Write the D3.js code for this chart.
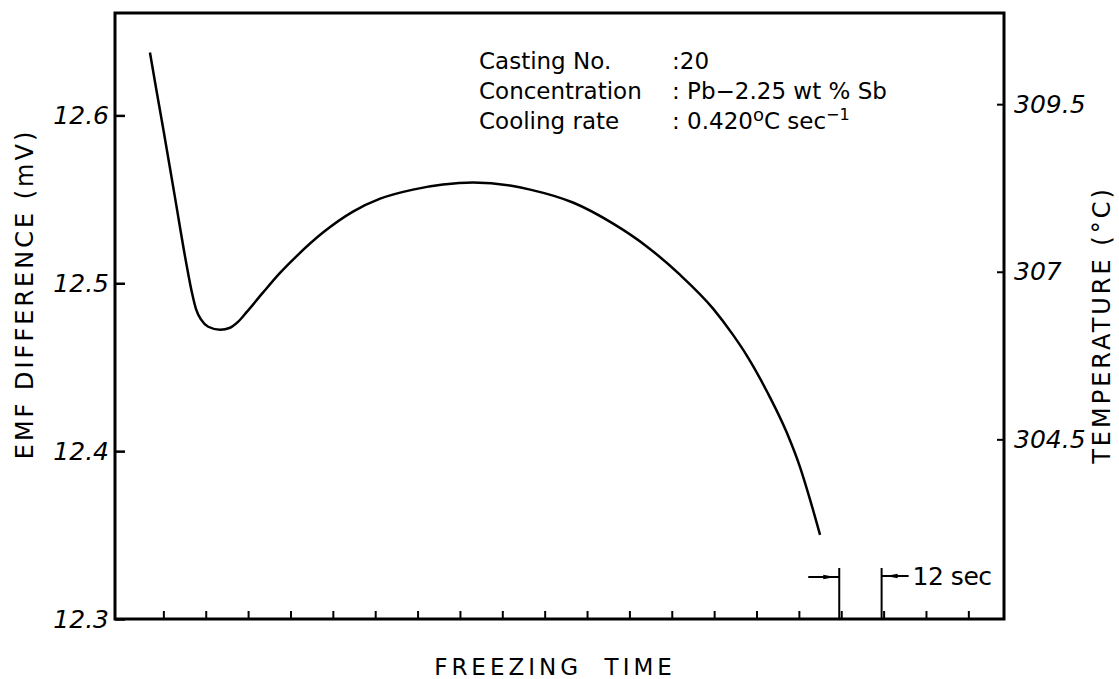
<!DOCTYPE html>
<html>
<head>
<meta charset="utf-8">
<title>Freezing curve - casting 20</title>
<script src="https://d3js.org/d3.v7.min.js"></script>
<style>
  body { margin: 0; background: #fff; }
  text { font-family: "DejaVu Sans", sans-serif; fill: #000; }
</style>
</head>
<body>
<div id="chart"></div>
<script>
// trace: freezing time (s) vs emf difference (mV)
const timeSec = [8.2, 9.9, 11.9, 15.3, 18.4, 20.1, 21.3, 22.7, 24.7, 28.1, 30.9, 33.2, 35.7,
                 40.2, 45.1, 49.9, 57.2, 65.7, 73.4, 82.7, 91.2, 99.7, 110.2, 115.9, 128.0,
                 139.4, 149.0, 158.3, 167.7, 173.3, 177.3, 183.0, 188.6, 192.3, 195.1, 198.0];
const emf = [12.6375, 12.6166, 12.5928, 12.5510, 12.5129, 12.4944, 12.4843, 12.4783, 12.4741,
             12.4723, 12.4735, 12.4771, 12.4831, 12.4944, 12.5063, 12.5165, 12.5302, 12.5427,
             12.5504, 12.5558, 12.5588, 12.5600, 12.5582, 12.5558, 12.5481, 12.5355, 12.5218,
             12.5051, 12.4849, 12.4694, 12.4568, 12.4354, 12.4109, 12.3906, 12.3716, 12.3501];

const emfTicks = [12.3, 12.4, 12.5, 12.6];
const tempTicks = [304.5, 307, 309.5];
const timeTicks = [12, 24, 36, 48, 60, 72, 84, 96, 108, 120, 132, 144, 156, 168, 180, 192, 204, 216, 228, 240];
const markTimes = [204, 216];   // the 12 sec bracket

const timeDomain = [-1.7, 250.1];
const emfDomain = [12.3, 12.661];
const tempDomain = [301.82, 310.86];

const infoLabels = ["Casting No.", "Concentration", "Cooling rate"];

const W = 1119, H = 679;
const plotL = 115, plotR = 1004, plotT = 13, plotB = 619;

let svg = d3.select("#chart").append("svg")
    .attr("width", W)
    .attr("height", H);

svg.append("defs").append("marker")
    .attr("id", "head")
    .attr("viewBox", "0 -3 12 6")
    .attr("markerUnits", "userSpaceOnUse")
    .attr("markerWidth", 12)
    .attr("markerHeight", 6)
    .attr("refX", 16)
    .attr("refY", 0)
    .attr("orient", "auto")
  .append("path")
    .attr("d", "M0,-2.2L12,0L0,2.2Z")
    .attr("fill", "#000");

let xScale = d3.scaleLinear().domain(timeDomain).range([plotL, plotR]);
let yScale = d3.scaleLinear().domain(emfDomain).range([plotB, plotT]);
let tScale = d3.scaleLinear().domain(tempDomain).range([plotB, plotT]);

// frame
svg.append("rect")
    .attr("x", plotL).attr("y", plotT)
    .attr("width", plotR - plotL).attr("height", plotB - plotT)
    .attr("fill", "none")
    .attr("stroke", "#000")
    .attr("stroke-width", 3);

// left axis
let yAxis = d3.axisLeft(yScale)
    .tickValues(emfTicks)
    .tickSize(-10)
    .tickPadding(6)
    .tickFormat(d3.format(".1f"));
let gy = svg.append("g")
    .attr("transform", "translate(" + plotL + ",0)")
    .call(yAxis);
gy.select(".domain").remove();
gy.selectAll("line").attr("stroke", "#000").attr("stroke-width", 2.5);
gy.selectAll("text")
    .attr("font-size", "25px")
    .attr("font-style", "italic")
    .attr("font-family", "DejaVu Sans, sans-serif")
    .attr("fill", "#000");

// right axis (temperature)
let tAxis = d3.axisRight(tScale)
    .tickValues(tempTicks)
    .tickSize(-7)
    .tickPadding(10)
    .tickFormat(d => d % 1 === 0 ? d3.format("d")(d) : d3.format(".1f")(d));
let gt = svg.append("g")
    .attr("transform", "translate(" + plotR + ",0)")
    .call(tAxis);
gt.select(".domain").remove();
gt.selectAll("line").attr("stroke", "#000").attr("stroke-width", 2);
gt.selectAll("text")
    .attr("font-size", "25px")
    .attr("font-style", "italic")
    .attr("font-family", "DejaVu Sans, sans-serif")
    .attr("fill", "#000");

// bottom ticks
let xAxis = d3.axisBottom(xScale)
    .tickValues(timeTicks)
    .tickSize(-8)
    .tickFormat("");
let gx = svg.append("g")
    .attr("transform", "translate(0," + plotB + ")")
    .call(xAxis);
gx.select(".domain").remove();
gx.selectAll("line").attr("stroke", "#000").attr("stroke-width", 2);

// curve
let line = d3.line()
    .x((d, i) => xScale(timeSec[i]))
    .y(d => yScale(d))
    .curve(d3.curveMonotoneX);
svg.append("path")
    .datum(emf)
    .attr("d", line)
    .attr("fill", "none")
    .attr("stroke", "#000")
    .attr("stroke-width", 2.5);

// 12 sec bracket
svg.selectAll(".mark")
    .data(markTimes)
    .enter()
    .append("line")
    .attr("class", "mark")
    .attr("x1", d => xScale(d) - 2)
    .attr("x2", d => xScale(d) - 2)
    .attr("y1", plotB)
    .attr("y2", plotB - 51)
    .attr("stroke", "#000")
    .attr("stroke-width", 2);

svg.append("line")
    .attr("x1", xScale(markTimes[0]) - 33).attr("x2", xScale(markTimes[0]) - 2)
    .attr("y1", plotB - 42).attr("y2", plotB - 42)
    .attr("stroke", "#000").attr("stroke-width", 2)
    .attr("marker-end", "url(#head)");
svg.append("line")
    .attr("x1", xScale(markTimes[1]) + 25).attr("x2", xScale(markTimes[1]) - 2)
    .attr("y1", plotB - 43).attr("y2", plotB - 43)
    .attr("stroke", "#000").attr("stroke-width", 2)
    .attr("marker-end", "url(#head)");
svg.append("text")
    .attr("x", xScale(markTimes[1]) + 29)
    .attr("y", plotB - 34)
    .attr("font-size", "25px")
    .attr("letter-spacing", "-0.5px")
    .text("12 sec");

// annotation
let info = svg.append("g").attr("font-size", "23px");
info.selectAll(".lab")
    .data(infoLabels)
    .enter()
    .append("text")
    .attr("x", 479)
    .attr("y", (d, i) => 69 + i * 30)
    .text(d => d);
info.append("text").attr("x", 672).attr("y", 69).text(":20");
info.append("text").attr("x", 672).attr("y", 99).text(": Pb\u22122.25 wt % Sb");
let cr = info.append("text").attr("x", 672).attr("y", 129);
cr.append("tspan").text(": 0.420");
cr.append("tspan").attr("font-size", "18px").attr("dy", -8).text("o");
cr.append("tspan").attr("dy", 8).text("C sec");
cr.append("tspan").attr("font-size", "16px").attr("dy", -9).text("\u22121");

// axis titles
svg.append("text")
    .attr("transform", "translate(33," + ((plotT + plotB) / 2 - 22) + ") rotate(-90)")
    .style("text-anchor", "middle")
    .attr("font-size", "24px")
    .attr("letter-spacing", "3px")
    .text("EMF DIFFERENCE (mV)");

svg.append("text")
    .attr("transform", "translate(1110," + 325 + ") rotate(-90)")
    .style("text-anchor", "middle")
    .attr("font-size", "24px")
    .attr("letter-spacing", "3px")
    .text("TEMPERATURE (\u00b0C)");

svg.append("text")
    .attr("x", 555)
    .attr("y", 675)
    .style("text-anchor", "middle")
    .attr("font-size", "23px")
    .attr("letter-spacing", "4px")
    .style("white-space", "pre")
    .text("FREEZING  TIME");
</script>
</body>
</html>
